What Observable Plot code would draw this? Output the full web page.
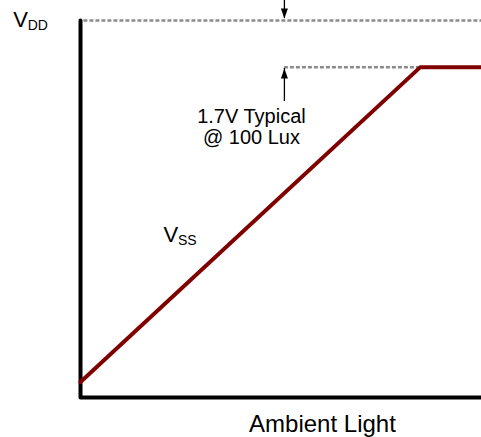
<!DOCTYPE html>
<html><head><meta charset="utf-8">
<script src="https://cdn.jsdelivr.net/npm/d3@7"></script>
<script src="https://cdn.jsdelivr.net/npm/@observablehq/plot@0.6"></script>
<style>body{margin:0;background:#fff;} svg{display:block;}</style>
</head><body><div id="chart"></div>
<script>
// x: ambient light (lux), y: output voltage (V)
const vdd = 1.94;
const xMax = 118;
const responseLux = [0, 100, 118];
const responseVolts = [0.08, 1.7, 1.7];
const typicalLux = 100;
const typicalVolts = 1.7;
const arrowLux = 60;
const arrowTopFrom = 2.043, arrowTopTip = 1.95;
const arrowUpFrom = 1.523, arrowUpTip = 1.693;
const axisLabel = "Ambient Light";
const axisLabelLux = 71.2, axisLabelVolts = -0.175;
const noteLines = ["1.7V Typical", "@ 100 Lux"];
const noteLux = [50.3, 50.3];
const noteVolts = [1.415, 1.302];
const railNames = ["V", "V"];
const railSubs = ["DD", "SS"];
const railLux = [-19.8, 24.4];
const railVolts = [1.909, 0.798];

const response = responseLux.map((x, i) => ({x, y: responseVolts[i]}));
const axisPath = [{x: 0, y: vdd}, {x: 0, y: 0}, {x: xMax, y: 0}];
const notes = noteLines.map((t, i) => ({t, x: noteLux[i], y: noteVolts[i]}));
const rails = railNames.map((t, i) => ({t, s: railSubs[i], x: railLux[i], y: railVolts[i]}));
const heads = [{x: arrowLux, y: arrowTopTip, r: 180}, {x: arrowLux, y: arrowUpTip, r: 0}];
const shafts = [
  {x: arrowLux, y1: arrowTopFrom, y2: arrowTopTip},
  {x: arrowLux, y1: arrowUpFrom, y2: arrowUpTip}
];
const arrowHead = {draw(ctx) { ctx.moveTo(0, 0); ctx.lineTo(-3.5, 10); ctx.lineTo(3.5, 10); ctx.closePath(); }};
const dash = {stroke: "#8c8c8c", strokeWidth: 2.5, strokeDasharray: "4,2"};

const chart = Plot.plot({
  width: 481, height: 437,
  marginLeft: 80, marginRight: 0, marginTop: 20, marginBottom: 40,
  x: {domain: [0, xMax], axis: null},
  y: {domain: [0, vdd], axis: null},
  style: {fontFamily: "'Liberation Sans', Arial, sans-serif", background: "#fff", color: "#000", overflow: "visible"},
  marks: [
    Plot.ruleY([vdd], {x1: 1, x2: xMax, ...dash}),
    Plot.ruleY([typicalVolts], {x1: arrowLux, x2: typicalLux, ...dash}),
    Plot.line(axisPath, {x: "x", y: "y", stroke: "#000", strokeWidth: 4, strokeLinejoin: "round"}),
    Plot.line(response, {x: "x", y: "y", stroke: "#800000", strokeWidth: 4, strokeLinejoin: "miter"}),
    Plot.ruleX(shafts, {x: "x", y1: "y1", y2: "y2", stroke: "#000", strokeWidth: 1.3}),
    Plot.dot(heads, {x: "x", y: "y", rotate: "r", symbol: arrowHead, fill: "#000", stroke: "none", r: 5}),
    Plot.text(notes, {x: "x", y: "y", text: "t", fontSize: 20, lineAnchor: "bottom", fill: "#000"}),
    Plot.text(rails, {x: "x", y: "y", text: "t", fontSize: 22, textAnchor: "start", lineAnchor: "bottom", fill: "#000"}),
    Plot.text(rails, {x: "x", y: "y", text: "s", fontSize: 14, textAnchor: "start", lineAnchor: "bottom", dx: 14.5, dy: 3, fill: "#000"}),
    Plot.text([axisLabel], {x: () => axisLabelLux, y: () => axisLabelVolts, text: d => d, fontSize: 24, lineAnchor: "bottom", fill: "#000"})
  ]
});
document.getElementById("chart").appendChild(chart);
</script>
</body></html>
